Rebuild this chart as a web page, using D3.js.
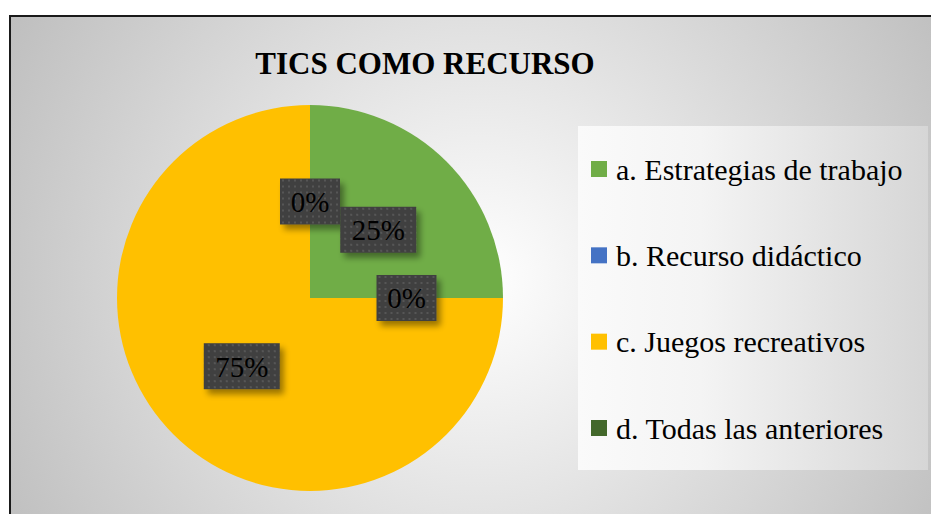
<!DOCTYPE html>
<html>
<head>
<meta charset="utf-8">
<script src="https://cdn.jsdelivr.net/npm/d3@7"></script>
<style>
  body { margin: 0; background: #fff; }
  svg { display: block; }
  text { font-family: "Liberation Serif", "Times New Roman", "DejaVu Serif", serif; }
</style>
</head>
<body>
<div class="chart"></div>
<script>
var svgWidth = 931;
var svgHeight = 514;

// chart data
var categories = ["a. Estrategias de trabajo", "b. Recurso didáctico", "c. Juegos recreativos", "d. Todas las anteriores"];
var values = [0.25, 0, 0.75, 0];
var colors = ["#70ad47", "#4472c4", "#ffc000", "#43682b"];
var title = "TICS COMO RECURSO";

var svg = d3.select(".chart")
  .append("svg")
  .attr("width", svgWidth)
  .attr("height", svgHeight);

var defs = svg.append("defs");

// chart area background
var bg = defs.append("radialGradient")
  .attr("id", "bgGrad")
  .attr("gradientUnits", "userSpaceOnUse")
  .attr("cx", 480).attr("cy", 280).attr("r", 560);
bg.append("stop").attr("offset", "0").attr("stop-color", "#ffffff");
bg.append("stop").attr("offset", "1").attr("stop-color", "#bcbcbc");

var lg = defs.append("linearGradient")
  .attr("id", "legGrad")
  .attr("x1", "0").attr("y1", "0").attr("x2", "1").attr("y2", "0");
lg.append("stop").attr("offset", "0").attr("stop-color", "#fafafa");
lg.append("stop").attr("offset", "0.35").attr("stop-color", "#f4f4f4");
lg.append("stop").attr("offset", "1").attr("stop-color", "#d6d6d6");

// dotted texture for the data labels
var pat = defs.append("pattern")
  .attr("id", "dots")
  .attr("patternUnits", "userSpaceOnUse")
  .attr("width", 6).attr("height", 6);
pat.append("rect").attr("width", 6).attr("height", 6).attr("fill", "#404040");
pat.append("rect").attr("x", 2).attr("y", 2).attr("width", 2).attr("height", 2).attr("fill", "#575757");

var shadow = defs.append("filter")
  .attr("id", "shadow")
  .attr("x", "-30%").attr("y", "-30%").attr("width", "160%").attr("height", "160%");
shadow.append("feGaussianBlur").attr("in", "SourceAlpha").attr("stdDeviation", 3);
shadow.append("feOffset").attr("dx", 4).attr("dy", 5).attr("result", "b");
shadow.append("feComponentTransfer").append("feFuncA").attr("type", "linear").attr("slope", 0.4);
var merge = shadow.append("feMerge");
merge.append("feMergeNode");
merge.append("feMergeNode").attr("in", "SourceGraphic");

svg.append("rect")
  .attr("x", 10).attr("y", 16)
  .attr("width", 940).attr("height", 520)
  .attr("fill", "url(#bgGrad)")
  .attr("stroke", "#1a1a1a")
  .attr("stroke-width", 2);

// title
svg.append("text")
  .attr("x", 425)
  .attr("y", 74)
  .attr("text-anchor", "middle")
  .attr("font-weight", "bold")
  .attr("font-size", "31px")
  .attr("fill", "#000")
  .text(title);

// pie
var cx = 310, cy = 298, radius = 193;
var pieGroup = svg.append("g")
  .attr("transform", `translate(${cx}, ${cy})`);

var pie = d3.pie().sort(null).value(d => d);
var arcs = pie(values);
var arc = d3.arc().innerRadius(0).outerRadius(radius);
var labelArc = d3.arc().innerRadius(radius * 0.5).outerRadius(radius * 0.5);

pieGroup.selectAll("path")
  .data(arcs)
  .enter()
  .append("path")
  .attr("d", arc)
  .attr("fill", (d, i) => colors[i]);

// data labels
var fmt = d3.format(".0%");
var labelOrder = [3, 0, 1, 2];
labelOrder.forEach(function (i) {
  var d = arcs[i];
  var c = labelArc.centroid(d);
  var txt = fmt(values[i]);
  var w = txt.length === 2 ? 60 : 76;
  var h = 46;
  var g = pieGroup.append("g")
    .attr("transform", `translate(${c[0]}, ${c[1]})`);
  g.append("rect")
    .attr("x", -w / 2).attr("y", -h / 2)
    .attr("width", w).attr("height", h)
    .attr("fill", "url(#dots)")
    .attr("filter", "url(#shadow)");
  g.append("text")
    .attr("text-anchor", "middle")
    .attr("dy", "0.36em")
    .attr("font-size", "29px")
    .attr("fill", "#000")
    .text(txt);
});

// legend
var legend = svg.append("g");
legend.append("rect")
  .attr("x", 578).attr("y", 126)
  .attr("width", 350).attr("height", 344)
  .attr("fill", "url(#legGrad)");

var legendY = d3.scalePoint()
  .domain(categories)
  .range([169, 428]);

var items = legend.selectAll("g.item")
  .data(categories)
  .enter()
  .append("g")
  .attr("class", "item")
  .attr("transform", d => `translate(591, ${legendY(d)})`);

items.append("rect")
  .attr("x", 0).attr("y", -8)
  .attr("width", 16).attr("height", 16)
  .attr("fill", (d, i) => colors[i]);

items.append("text")
  .attr("x", 25)
  .attr("dy", "0.35em")
  .attr("font-size", "30px")
  .attr("fill", "#000")
  .text(d => d);
</script>
</body>
</html>
